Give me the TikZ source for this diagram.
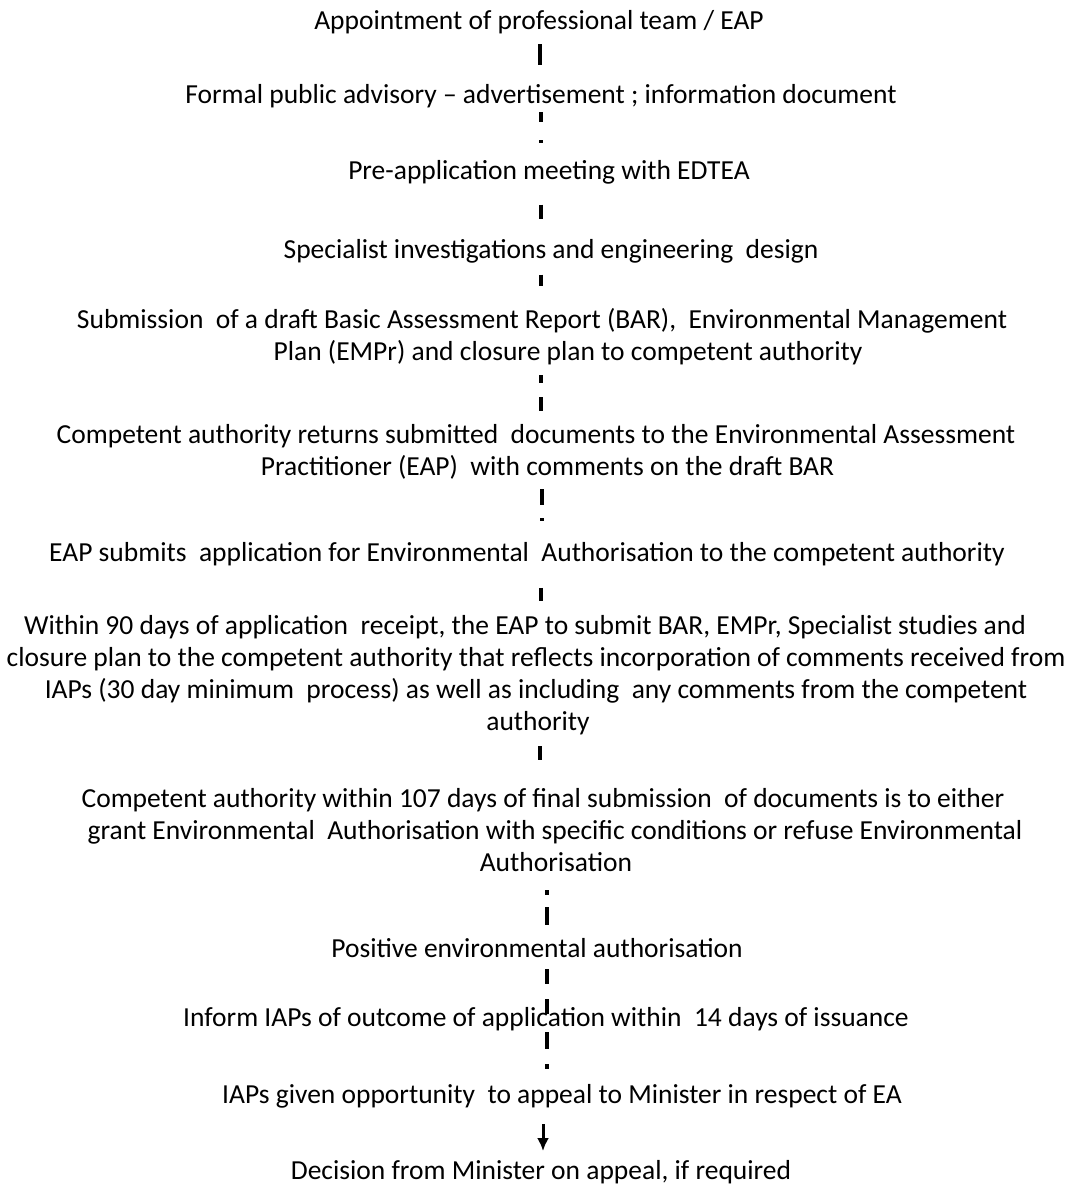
\documentclass[tikz,border=0pt]{standalone}
\usepackage{fontspec}
\setmainfont{Carlito}
\usetikzlibrary{arrows.meta}
\begin{document}
\begin{tikzpicture}[x=1pt,y=-1pt,
  txt/.style={inner sep=0pt, align=center, font=\fontsize{27.5}{32}\selectfont},
  link/.style={line width=4pt},
  lastlink/.style={line width=3pt, -{Latex[length=13pt,width=12pt]}}]
\useasboundingbox[fill=white] (0,0) rectangle (1070,1192);
\node[txt] (n1) at (539,22) {Appointment of professional team / EAP};
\node[txt] (n2) at (541,96) {Formal public advisory -- advertisement ; information document};
\node[txt] (n3) at (549,172) {Pre-application meeting with EDTEA};
\node[txt] (n4) at (551,251) {Specialist investigations and engineering\ \ design};
\node[txt] (n5) at (542,336.5) {Submission\ \ of a draft Basic Assessment Report (BAR),\ \ Environmental Management\\\hspace*{52pt}Plan (EMPr) and closure plan to competent authority};
\node[txt] (n6) at (536,452) {Competent authority returns submitted\ \ documents to the Environmental Assessment\\\hspace*{23pt}Practitioner (EAP)\ \ with comments on the draft BAR};
\node[txt] (n7) at (527,554) {EAP submits\ \ application for Environmental\ \ Authorisation to the competent authority};
\node[txt] (n8) at (536,675) {Within 90 days of application\ \ receipt, the EAP to submit BAR, EMPr, Specialist studies and\hspace*{22pt}\\closure plan to the competent authority that reflects incorporation of comments received from\\IAPs (30 day minimum\ \ process) as well as including\ \ any comments from the competent\\\hspace*{4pt}authority};
\node[txt] (n9) at (543,830.5) {Competent authority within 107 days of final submission\ \ of documents is to either\\\hspace*{24pt}grant Environmental\ \ Authorisation with specific conditions or refuse Environmental\\\hspace*{26pt}Authorisation};
\node[txt] (n10) at (537,948) {Positive environmental authorisation};
\node[txt] (n11) at (546,1019) {Inform IAPs of outcome of application within\ \ 14 days of issuance};
\node[txt] (n12) at (562,1096) {IAPs given opportunity\ \ to appeal to Minister in respect of EA};
\node[txt] (n13) at (541,1172) {Decision from Minister on appeal, if required};
\draw[link, shorten <=10.5pt, shorten >=19.5pt] (n1.south -| 540,0) -- (n2.north -| 540,0);
\draw[link, dash pattern=on 10pt off 18pt on 3pt off 100pt, shorten <=4.5pt, shorten >=15.5pt] (n2.south -| 541,0) -- (n3.north -| 541,0);
\draw[link, shorten <=20.5pt, shorten >=19.5pt] (n3.south -| 541,0) -- (n4.north -| 541,0);
\draw[link, shorten <=11.5pt, shorten >=22.5pt] (n4.south -| 541,0) -- (n5.north -| 541,0);
\draw[link, dash pattern=on 8pt off 14pt on 14pt off 100pt, shorten <=10.5pt, shorten >=13.5pt] (n5.south -| 541,0) -- (n6.north -| 541,0);
\draw[link, dash pattern=on 16pt off 13pt on 3pt off 100pt, shorten <=9.5pt, shorten >=19.5pt] (n6.south -| 542,0) -- (n7.north -| 542,0);
\draw[link, shorten <=22pt, shorten >=14.5pt] (n7.south -| 541,0) -- (n8.north -| 541,0);
\draw[link, shorten <=11.5pt, shorten >=28.5pt] (n8.south -| 540,0) -- (n9.north -| 540,0);
\draw[link, dash pattern=on 5pt off 12pt on 18pt off 100pt, shorten <=18pt, shorten >=12.5pt] (n9.south -| 547,0) -- (n10.north -| 547,0);
\draw[link, dash pattern=on 15pt off 15pt on 15pt off 100pt, shorten <=11.5pt, shorten >=-10.5pt] (n10.south -| 547,0) -- (n11.north -| 547,0);
\draw[link, dash pattern=on 17pt off 15pt on 5pt off 100pt, shorten <=1.5pt, shorten >=13.5pt] (n11.south -| 547,0) -- (n12.north -| 547,0);
\draw[lastlink, shorten <=16pt, shorten >=9pt] (n12.south -| 543,0) -- (n13.north -| 543,0);
\end{tikzpicture}
\end{document}
